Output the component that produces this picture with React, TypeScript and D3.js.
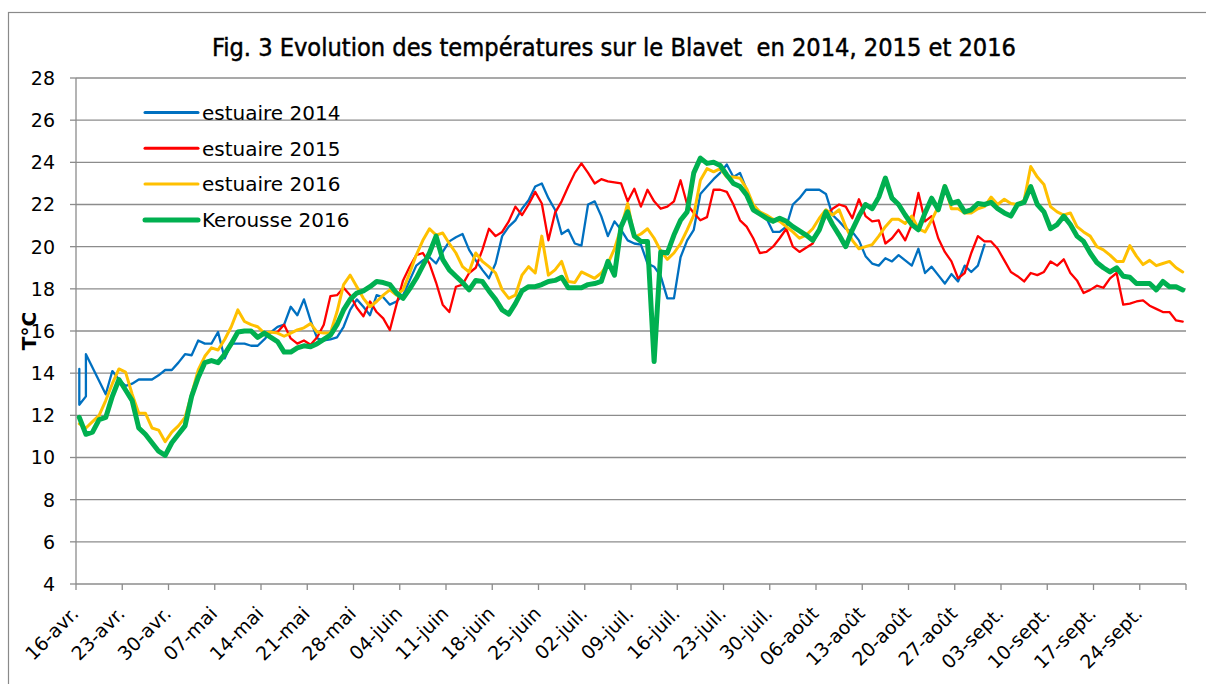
import React from "react";
import * as d3 from "d3";

// ---- data (days counted from 16 April; values in °C) ----
const tickLabels = [
  "16-avr.", "23-avr.", "30-avr.", "07-mai", "14-mai", "21-mai", "28-mai",
  "04-juin", "11-juin", "18-juin", "25-juin", "02-juil.", "09-juil.", "16-juil.",
  "23-juil.", "30-juil.", "06-août", "13-août", "20-août", "27-août",
  "03-sept.", "10-sept.", "17-sept.", "24-sept.",
];
const yTicks = [4, 6, 8, 10, 12, 14, 16, 18, 20, 22, 24, 26, 28];
const seriesNames = ["estuaire 2014", "estuaire 2015", "estuaire 2016", "Kerousse 2016"];

// estuaire 2014 : irregular readings -> explicit days
const blueDays = [
  0, 0, 1, 1, 4, 5, 6, 7, 8, 9, 10, 11, 12, 13, 14, 15, 16, 17, 18, 19, 20, 21, 22, 23, 24, 25,
  26, 27, 28, 29, 30, 31, 32, 33, 34, 35, 36, 37, 38, 39, 40, 41, 42, 43, 44, 45, 46, 47, 48, 49,
  50, 51, 52, 53, 54, 55, 56, 57, 58, 59, 60, 61, 62, 63, 64, 65, 66, 67, 68, 69, 70, 71, 72, 73,
  74, 75, 76, 77, 78, 79, 80, 81, 82, 83, 84, 85, 86, 87, 88, 89, 90, 91, 92, 93, 94, 95, 96, 97,
  98, 99, 100, 101, 102, 103, 104, 105, 106, 107, 108, 109, 110, 111, 112, 113, 114, 115, 116,
  117, 118, 119, 120, 121, 122, 123, 124, 125, 126, 127, 128, 129, 130, 131, 132, 133, 134, 135,
  136, 137,
];
const blueValues = [
  14.2, 12.5, 12.9, 14.9, 13.0, 14.1, 13.7, 13.4, 13.5, 13.7, 13.7, 13.7, 13.9, 14.15, 14.15, 14.5,
  14.9, 14.85, 15.55, 15.4, 15.4, 15.95, 14.7, 15.4, 15.4, 15.4, 15.3, 15.3, 15.6, 15.95, 16.2,
  16.3, 17.15, 16.75, 17.5, 16.5, 15.65, 15.55, 15.6, 15.7, 16.2, 17.0, 17.5, 17.15, 16.75, 17.7,
  17.6, 17.25, 17.4, 17.7, 18.4, 19.1, 19.35, 19.5, 19.2, 19.75, 20.25, 20.45, 20.6, 19.85, 19.35,
  18.9, 18.5, 19.2, 20.5, 20.95, 21.25, 21.8, 22.2, 22.85, 23.0, 22.3, 21.75, 20.6, 20.8, 20.15,
  20.05, 22.0, 22.15, 21.45, 20.5, 21.2, 20.8, 20.3, 20.15, 20.1, 19.2, 19.05, 18.6, 17.55, 17.55,
  19.5, 20.3, 20.8, 22.5, 22.85, 23.2, 23.5, 23.9, 23.3, 23.5, 22.7, 21.9, 21.65, 21.35, 20.7,
  20.7, 20.95, 22.0, 22.3, 22.7, 22.7, 22.7, 22.5, 21.5, 21.2, 20.85, 20.7, 20.3, 19.55, 19.2,
  19.1, 19.45, 19.3, 19.6, 19.35, 19.1, 19.9, 18.75, 19.05, 18.65, 18.25, 18.7, 18.35, 19.1, 18.8,
  19.1, 20.1,
];

// estuaire 2015 : daily from day 29 (15 May)
const redStart = 29;
const redValues = [
  15.95, 15.95, 16.3, 15.65, 15.4, 15.55, 15.35, 15.7, 16.3, 17.65, 17.7,
  18.05, 17.7, 17.1, 16.7, 17.4, 16.9, 16.6, 16.05, 17.25, 18.4,
  19.05, 19.6, 19.7, 19.2, 18.3, 17.25, 16.9, 18.1, 18.2, 18.75,
  19.0, 19.85, 20.85, 20.5, 20.7, 21.2, 21.9, 21.5, 22.0, 22.6,
  22.05, 20.3, 21.6, 22.15, 22.85, 23.5, 23.95, 23.5, 23.0, 23.2,
  23.1, 23.05, 23.0, 22.15, 22.75, 21.9, 22.7, 22.15, 21.8, 21.9,
  22.15, 23.15, 22.0, 21.6, 21.25, 21.4, 22.7, 22.7, 22.6, 22.0,
  21.25, 20.95, 20.4, 19.7, 19.75, 20.0, 20.4, 20.85, 20.0, 19.75,
  19.95, 20.15, 20.85, 21.45, 21.8, 22.0, 21.9, 21.35, 22.25, 21.45,
  21.2, 21.25, 20.15, 20.4, 20.8, 20.3, 21.05, 22.55, 21.2, 21.45,
  20.4, 19.75, 19.3, 18.5, 18.75, 19.7, 20.5, 20.25, 20.25, 19.9,
  19.35, 18.8, 18.6, 18.35, 18.75, 18.65, 18.8, 19.3, 19.1, 19.4,
  18.75, 18.4, 17.8, 17.95, 18.15, 18.05, 18.5, 18.75, 17.25, 17.3,
  17.4, 17.45, 17.2, 17.05, 16.9, 16.9, 16.5, 16.45,
];

// estuaire 2016 : daily from day 0
const yellowValues = [
  11.6, 11.4, 11.7, 12.0, 12.7, 13.5, 14.2, 14.05, 13.0, 12.1,
  12.1, 11.4, 11.3, 10.75, 11.2, 11.5, 11.9, 13.0, 14.15, 14.8,
  15.2, 15.1, 15.6, 16.2, 17.0, 16.45, 16.3, 16.2, 15.9, 15.95,
  15.9, 15.75, 15.9, 16.05, 16.15, 16.35, 15.95, 15.9, 15.9, 16.9,
  18.2, 18.65, 18.1, 17.55, 17.15, 17.4, 17.7, 17.95, 17.7, 17.95,
  18.75, 19.6, 20.3, 20.85, 20.55, 20.65, 20.15, 19.7, 19.05, 18.8,
  19.7, 19.3, 19.05, 18.75, 17.95, 17.55, 17.7, 18.65, 19.05, 18.75,
  20.5, 18.65, 18.9, 19.3, 18.35, 18.3, 18.8, 18.65, 18.5, 18.75,
  19.2, 19.9, 20.9, 22.05, 20.45, 20.6, 20.85, 20.4, 19.8, 19.4,
  19.7, 20.15, 20.8, 21.5, 23.15, 23.7, 23.55, 23.7, 23.3, 23.3,
  23.25, 22.75, 22.0, 21.65, 21.5, 21.3, 21.2, 20.95, 20.7, 20.4,
  20.55, 20.85, 21.35, 21.75, 21.5, 21.75, 20.95, 20.3, 19.9, 20.0,
  20.1, 20.5, 20.95, 21.3, 21.3, 21.1, 21.45, 20.85, 20.7, 21.25,
  21.9, 22.9, 21.8, 21.8, 21.6, 21.6, 21.8, 21.9, 22.35, 22.0,
  22.25, 22.05, 22.0, 22.2, 23.8, 23.3, 22.95, 21.9, 21.65, 21.5,
  21.6, 20.95, 20.7, 20.5, 20.0, 19.85, 19.6, 19.3, 19.3, 20.05,
  19.55, 19.15, 19.35, 19.1, 19.2, 19.3, 19.0, 18.8,
];

// Kerousse 2016 : daily from day 0
const greenValues = [
  11.9, 11.1, 11.2, 11.8, 11.9, 12.9, 13.7, 13.2, 12.7, 11.4,
  11.1, 10.7, 10.3, 10.1, 10.7, 11.1, 11.5, 12.9, 13.8, 14.5,
  14.6, 14.5, 14.9, 15.4, 15.95, 16.0, 16.0, 15.7, 15.9, 15.7,
  15.5, 15.0, 15.0, 15.2, 15.3, 15.25, 15.4, 15.6, 15.8, 16.3,
  17.0, 17.5, 17.8, 17.9, 18.1, 18.35, 18.3, 18.2, 17.8, 17.55,
  18.0, 18.5, 19.1, 19.7, 20.5, 19.4, 18.9, 18.6, 18.3, 17.95,
  18.4, 18.35, 17.9, 17.5, 17.0, 16.8, 17.3, 17.9, 18.1, 18.1,
  18.2, 18.35, 18.4, 18.55, 18.05, 18.05, 18.05, 18.2, 18.25, 18.35,
  19.3, 18.65, 20.95, 21.65, 20.5, 20.25, 20.25, 14.55, 19.75, 19.7,
  20.55, 21.25, 21.65, 23.5, 24.2, 23.95, 24.0, 23.85, 23.4, 23.0,
  22.85, 22.45, 21.75, 21.55, 21.35, 21.2, 21.35, 21.2, 20.95, 20.75,
  20.55, 20.3, 20.8, 21.65, 21.05, 20.55, 20.0, 20.8, 21.45, 22.0,
  21.8, 22.35, 23.25, 22.3, 22.0, 21.5, 21.05, 20.8, 21.6, 22.3,
  21.75, 22.85, 22.05, 22.15, 21.65, 21.75, 22.05, 22.0, 22.1, 21.8,
  21.6, 21.45, 22.0, 22.1, 22.85, 22.0, 21.65, 20.85, 21.05, 21.45,
  21.05, 20.5, 20.25, 19.7, 19.25, 19.0, 18.8, 19.0, 18.6, 18.55,
  18.25, 18.25, 18.25, 17.95, 18.35, 18.1, 18.1, 17.95,
];

const colors = ["#0070C0", "#FF0000", "#FFC000", "#00B050"];
const widths = [2.3, 2.3, 3, 5];

type Pt = [number, number];

export default function App() {
  const W = 1206, H = 684;
  const left = 76, right = 1186, top = 78, bottom = 584;
  const x = d3.scaleLinear().domain([0, 168]).range([left, right]);
  const y = d3.scaleLinear().domain([4, 28]).range([bottom, top]);

  const blue: Pt[] = blueDays.map((d, i) => [d, blueValues[i]]);
  const red: Pt[] = redValues.map((v, i) => [redStart + i, v]);
  const yellow: Pt[] = yellowValues.map((v, i) => [i, v]);
  const green: Pt[] = greenValues.map((v, i) => [i, v]);
  const series = [blue, red, yellow, green];

  const line = d3
    .line<Pt>()
    .x((p) => x(p[0] + 0.5))
    .y((p) => y(p[1]));

  const tickDays = d3.range(0, 169, 7);
  const font = "'DejaVu Sans', Verdana, sans-serif";

  return (
    <svg
      width={W}
      height={H}
      style={{ position: "absolute", left: 0, top: 0, background: "#fff" }}
      fontFamily={font}
    >
      <rect x={0} y={0} width={W} height={H} fill="#fff" />
      <rect x={8.5} y={12.5} width={1400} height={900} fill="none" stroke="#8a8a8a" strokeWidth={1.2} />

      <text
        x={614}
        y={56}
        textAnchor="middle"
        fontFamily="'Liberation Sans Narrow', 'DejaVu Sans Condensed', 'Arial Narrow', sans-serif"
        fontSize={24}
        textLength={804}
        lengthAdjust="spacingAndGlyphs"
        fill="#000"
        stroke="#000"
        strokeWidth={0.45}
        style={{ whiteSpace: "pre" }}
      >
        {"Fig. 3 Evolution des températures sur le Blavet  en 2014, 2015 et 2016"}
      </text>

      {/* gridlines */}
      {yTicks.filter((t) => t !== 4).map((t) => (
        <line key={"g" + t} x1={left} x2={right} y1={y(t)} y2={y(t)} stroke="#8c8c8c" strokeWidth={1.3} />
      ))}

      {/* y axis */}
      <line x1={left} x2={left} y1={top} y2={bottom} stroke="#8c8c8c" strokeWidth={1.3} />
      {yTicks.map((t) => (
        <g key={"y" + t}>
          <line x1={left - 6} x2={left} y1={y(t)} y2={y(t)} stroke="#8c8c8c" strokeWidth={1.3} />
          <text x={55} y={y(t)} dy="0.36em" textAnchor="end" fontSize={19} fill="#000">
            {t}
          </text>
        </g>
      ))}

      {/* x axis */}
      <line x1={left} x2={right} y1={bottom} y2={bottom} stroke="#8c8c8c" strokeWidth={1.3} />
      {tickDays.map((d) => (
        <line key={"t" + d} x1={x(d)} x2={x(d)} y1={bottom} y2={bottom + 6} stroke="#8c8c8c" strokeWidth={1.3} />
      ))}
      {tickLabels.map((lab, i) => (
        <text
          key={lab}
          transform={`translate(${x(tickDays[i]) - 1},${bottom + 26}) rotate(-45)`}
          textAnchor="end"
          dy="0.36em"
          fontSize={19}
          fill="#000"
        >
          {lab}
        </text>
      ))}

      <text
        transform={`translate(29,331) rotate(-90)`}
        textAnchor="middle"
        dy="0.36em"
        fontSize={20}
        fontWeight="bold"
        fill="#000"
      >
        T°C
      </text>

      {/* series */}
      {series.map((s, i) => (
        <path
          key={"s" + i}
          d={line(s) || ""}
          fill="none"
          stroke={colors[i]}
          strokeWidth={widths[i]}
          strokeLinejoin="round"
          strokeLinecap="round"
        />
      ))}

      {/* legend */}
      {seriesNames.map((n, i) => {
        const ly = 112.5 + i * 35.8;
        return (
          <g key={n}>
            <line x1={145} x2={198} y1={ly} y2={ly} stroke={colors[i]} strokeWidth={widths[i] === 5 ? 5 : 3} strokeLinecap="round" />
            <text x={202} y={ly} dy="0.36em" fontSize={20} fill="#000">
              {n}
            </text>
          </g>
        );
      })}
    </svg>
  );
}
